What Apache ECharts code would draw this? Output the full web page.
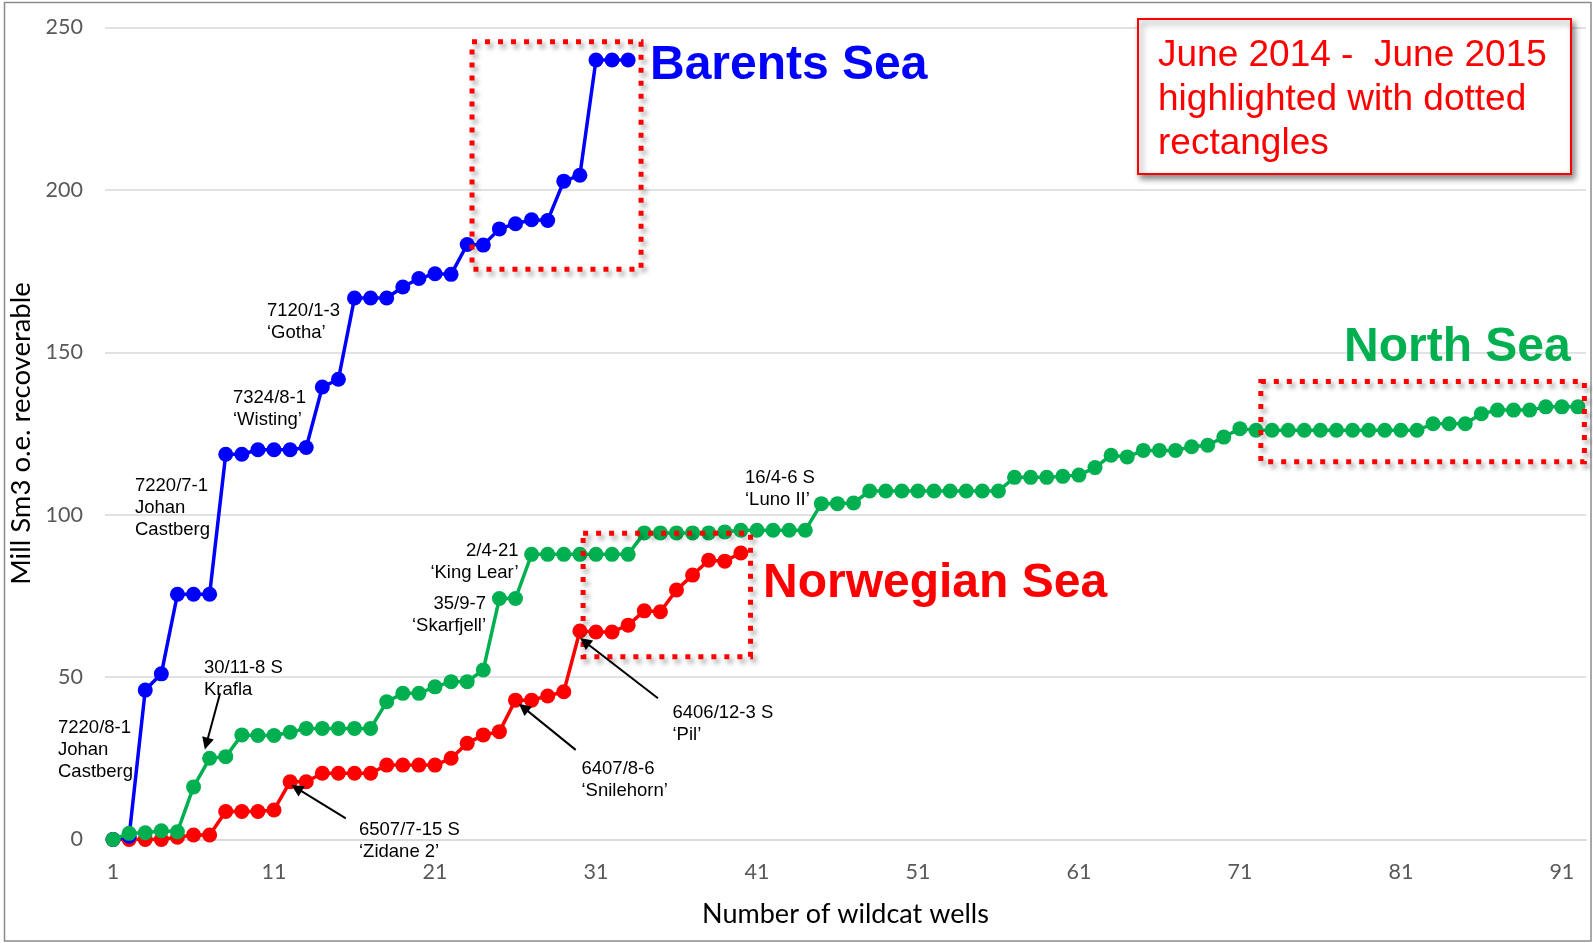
<!DOCTYPE html>
<html>
<head>
<meta charset="utf-8">
<title>Wildcat wells - discovered volumes</title>
<script src="https://cdn.jsdelivr.net/npm/echarts@6/dist/echarts.min.js"></script>
<style>
  html, body { margin: 0; padding: 0; background: #fff; }
  #chart { width: 1593px; height: 943px; }
</style>
</head>
<body>
<div id="chart"></div>
<script>
// x axis: wildcat well number 1..92
const wells = Array.from({ length: 92 }, (_, i) => String(i + 1));

// cumulative Mill Sm3 o.e. recoverable
const barentsSea = [0, 1, 46, 51, 75.5, 75.5, 75.5, 118.6, 118.6, 120, 120, 120, 120.7, 139.3, 141.7,
  166.7, 166.7, 166.7, 170.1, 172.7, 174.2, 174, 183.2, 183, 188, 189.6, 190.8, 190.6, 202.7, 204.5,
  240, 240, 240];

const norwegianSea = [0, 0, 0, 0, 0.7, 1.4, 1.4, 8.6, 8.6, 8.6, 9.1, 17.8, 17.8, 20.4, 20.4, 20.4, 20.4,
  22.9, 22.9, 22.9, 22.9, 25, 29.6, 32.2, 33.2, 42.9, 42.9, 44.2, 45.5, 64.2, 63.9, 63.9, 66, 70.4, 70.1,
  76.8, 81.4, 86, 85.7, 88.2];

const northSea = [0, 1.9, 2.1, 2.7, 2.4, 16.2, 25, 25.5, 32.2, 32, 32, 33, 34.2, 34.2, 34.2, 34.2, 34.2,
  42.4, 45, 45, 47, 48.6, 48.6, 52.2, 74.2, 74.2, 87.8, 87.8, 87.8, 87.8, 87.8, 87.8, 87.8,
  94.4, 94.4, 94.4, 94.4, 94.4, 94.7, 95.2, 95.2, 95.2, 95.2, 95.2, 103.4, 103.4, 103.6,
  107.3, 107.3, 107.3, 107.3, 107.3, 107.3, 107.3, 107.3, 107.3, 111.5, 111.5, 111.5, 111.8, 112.2,
  114.5, 118.3, 117.8, 119.8, 119.8, 119.8, 120.9, 121.4, 123.9, 126.5,
  126, 126, 126, 126, 126, 126, 126, 126, 126, 126, 126, 128, 128, 128, 131.1,
  132.2, 132.2, 132.2, 133.2, 133.2, 133.2];

// June 2014 - June 2015 boxes, [well, value] corners
const highlightBoxes = [
  [[23.3, 245.6], [33.8, 175.6]],
  [[30.2, 94.3], [40.6, 56.3]],
  [[72.3, 141], [92.4, 116.3]]
];

// arrows from note to well, [well, value] start -> end
const arrows = [
  [[7.65, 45.0], [6.8, 29.5]],
  [[15.46, 6.5], [12.4, 15.8]],
  [[29.74, 27.6], [26.5, 40.6]],
  [[34.85, 43.5], [30.3, 60.9]]
];

// well notes
const notes = [
  { text: '7220/8-1\nJohan\nCastberg', x: 58, y: 716.5, align: 'left' },
  { text: '30/11-8 S\nKrafla', x: 204, y: 656.5, align: 'left' },
  { text: '7220/7-1\nJohan\nCastberg', x: 135, y: 474.6, align: 'left' },
  { text: '7324/8-1\n\u2018Wisting\u2019', x: 233, y: 386.5, align: 'left' },
  { text: '7120/1-3\n\u2018Gotha\u2019', x: 267, y: 300, align: 'left' },
  { text: '2/4-21\n\u2018King Lear\u2019', x: 518.5, y: 540, align: 'right' },
  { text: '35/9-7\n\u2018Skarfjell\u2019', x: 486, y: 592.7, align: 'right' },
  { text: '16/4-6 S\n\u2018Luno II\u2019', x: 745, y: 466.6, align: 'left' },
  { text: '6406/12-3 S\n\u2018Pil\u2019', x: 672.5, y: 701.5, align: 'left' },
  { text: '6407/8-6\n\u2018Snilehorn\u2019', x: 581.5, y: 757.5, align: 'left' },
  { text: '6507/7-15 S\n\u2018Zidane 2\u2019', x: 359, y: 819, align: 'left' }
];

const seaLabels = [
  { text: 'Barents Sea', x: 650, y: 65.5, color: '#0000FF' },
  { text: 'Norwegian Sea', x: 763, y: 584, color: '#FF0000' },
  { text: 'North Sea', x: 1344, y: 347.5, color: '#00B050' }
];

const chart = echarts.init(document.getElementById('chart'));

function seaSeries(name, data, color, z) {
  return {
    name: name,
    type: 'line',
    data: data,
    z: z,
    symbol: 'circle',
    symbolSize: 15,
    showSymbol: true,
    showAllSymbol: true,
    lineStyle: { color: color, width: 3.5 },
    itemStyle: { color: color },
    emphasis: { disabled: true },
    silent: true
  };
}

const graphics = [
  {
    type: 'rect', silent: true, z: 0,
    shape: { x: 4.5, y: 2.5, width: 1586.5, height: 938.5 },
    style: { fill: 'none', stroke: '#8c8c8c', lineWidth: 1.5 }
  }
];

notes.forEach(n => {
  graphics.push({
    type: 'text', silent: true, z: 20, x: n.x, y: n.y,
    style: {
      text: n.text, fill: '#000', align: n.align, verticalAlign: 'top',
      font: '18.5px "Liberation Sans", Arial, sans-serif', lineHeight: 22
    }
  });
});

seaLabels.forEach(s => {
  graphics.push({
    type: 'text', silent: true, z: 20, x: s.x, y: s.y,
    style: {
      text: s.text, fill: s.color, align: 'left', verticalAlign: 'middle',
      font: 'bold 48px "Liberation Sans", Arial, sans-serif'
    }
  });
});

// note box top right
graphics.push({
  type: 'group', silent: true, z: 20,
  children: [
    {
      type: 'rect', z: 20,
      shape: { x: 1138, y: 19, width: 433, height: 155 },
      style: {
        fill: '#fff', stroke: '#FF0000', lineWidth: 2,
        shadowBlur: 6, shadowColor: 'rgba(0,0,0,0.45)', shadowOffsetX: 3, shadowOffsetY: 4
      }
    },
    {
      type: 'text', z: 21, x: 1158, y: 33.5,
      style: {
        text: 'June 2014 -  June 2015\nhighlighted with dotted\nrectangles',
        fill: '#FF0000', verticalAlign: 'top',
        font: '37px "Liberation Sans", Arial, sans-serif', lineHeight: 44.3
      }
    }
  ]
});

const option = {
  animation: false,
  backgroundColor: '#fff',
  grid: { left: 105, right: 7, top: 27.5, bottom: 103.5, containLabel: false, outerBoundsMode: 'none' },
  xAxis: [
    {
      type: 'category',
      data: wells,
      boundaryGap: true,
      name: 'Number of wildcat wells',
      nameLocation: 'middle',
      nameGap: 61,
      nameTextStyle: { color: '#000', fontFamily: 'Lato', fontSize: 27 },
      axisLine: { show: true, lineStyle: { color: '#d9d9d9', width: 1.5 } },
      axisTick: { show: false },
      axisLabel: { interval: 9, color: '#595959', fontFamily: 'Lato', fontSize: 21.5, margin: 22 },
      splitLine: { show: false }
    },
    {
      // helper axis for boxes and arrows, same span as the categories
      type: 'value',
      min: 0.5,
      max: 92.5,
      show: false
    }
  ],
  yAxis: {
    type: 'value',
    min: 0,
    max: 250,
    interval: 50,
    name: 'Mill Sm3 o.e. recoverable',
    nameLocation: 'middle',
    nameRotate: 90,
    nameGap: 69,
    nameTextStyle: { color: '#000', fontFamily: 'Lato', fontSize: 27.5 },
    axisLine: { show: false },
    axisTick: { show: false },
    axisLabel: { color: '#595959', fontFamily: 'Lato', fontSize: 21.5, margin: 22 },
    splitLine: { lineStyle: { color: '#d9d9d9', width: 1.5 } }
  },
  series: [
    seaSeries('Norwegian Sea', norwegianSea, '#FF0000', 2),
    seaSeries('Barents Sea', barentsSea, '#0000FF', 3),
    seaSeries('North Sea', northSea, '#00B050', 4),
    {
      type: 'line',
      xAxisIndex: 1,
      data: [],
      silent: true,
      z: 10,
      markArea: {
        z: 10,
        silent: true,
        label: { show: false },
        itemStyle: {
          color: 'none',
          borderColor: '#FF0000',
          borderWidth: 5,
          borderType: [5, 8],
          shadowBlur: 5,
          shadowColor: 'rgba(0,0,0,0.4)',
          shadowOffsetX: 3,
          shadowOffsetY: 4
        },
        data: highlightBoxes.map(b => [{ coord: b[0] }, { coord: b[1] }])
      },
      markLine: {
        z: 11,
        silent: true,
        symbol: ['none', 'triangle'],
        symbolSize: 12,
        label: { show: false },
        lineStyle: { color: '#000', width: 2, type: 'solid' },
        data: arrows.map(a => [{ coord: a[0] }, { coord: a[1] }])
      }
    }
  ],
  graphic: graphics
};

chart.setOption(option);
</script>
</body>
</html>
